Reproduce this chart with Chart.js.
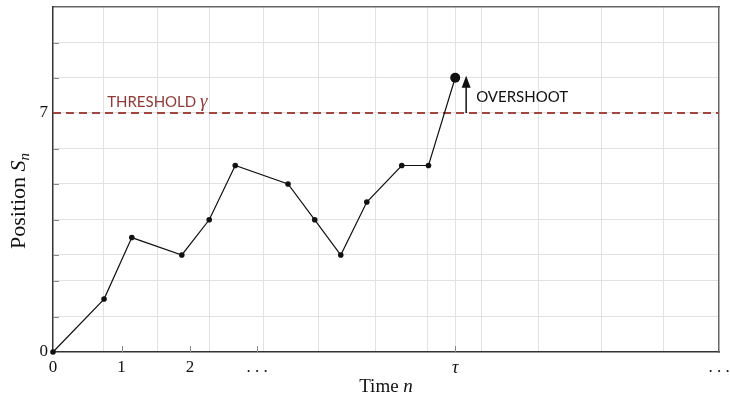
<!DOCTYPE html>
<html>
<head>
<meta charset="utf-8">
<script src="https://cdn.jsdelivr.net/npm/chart.js@4.4.0/dist/chart.umd.min.js"></script>
<style>
  html, body { margin: 0; background: #fff; }
  #wrap { width: 730px; height: 395px; }
</style>
</head>
<body>
<div id="wrap"><canvas id="walk"></canvas></div>
<script>
// random walk S_n
const stepTimes = [0, 0.745, 1.15, 1.88, 2.28, 2.66, 3.43, 3.82, 4.2, 4.58, 5.09, 5.48, 5.87];
const positions = [0, 1.55, 3.35, 2.84, 3.87, 5.46, 4.92, 3.87, 2.84, 4.39, 5.46, 5.46, 8.03];
const threshold = 7;
const xMax = 9.72;
const yMax = 10.1;

// grid lines (irregular in the original)
const xGrid = [0.73, 1.52, 2.28, 3.07, 3.87, 4.70, 5.47, 5.87, 6.26, 7.08, 8.01, 8.91];
const yGrid = [1.03, 2.08, 2.84, 3.87, 4.92, 5.95, 7, 8.03, 9.05];

// labelled ticks
const xTickVals = [0, 1, 2, 2.98, 5.87, xMax];
const xTickLabels = ['0', '1', '2', '. . .', 'τ', '. . .'];
const yTickVals = [0, 7];
const yTickLabels = ['0', '7'];

const overshootX = 6.03;
const serif = '"Liberation Serif", "DejaVu Serif", serif';
const sans = 'Lato, "Open Sans", sans-serif';

const near = (a, b) => Math.abs(a - b) < 1e-6;
const inList = (v, list) => list.some(t => near(t, v));
const merged = (a, b) => [...new Set([...a, ...b])].sort((p, q) => p - q);

function drawParts(ctx, parts, x, y) {
  // parts: [text, font, dy]
  let total = 0;
  parts.forEach(p => { ctx.font = p[1]; total += ctx.measureText(p[0]).width; });
  let cx = x - total / 2;
  parts.forEach(p => {
    ctx.font = p[1];
    ctx.fillText(p[0], cx, y + (p[2] || 0));
    cx += ctx.measureText(p[0]).width;
  });
}

const overlay = {
  id: 'overlay',
  beforeDatasetsDraw(chart) {
    const { ctx, chartArea: a, scales: { x, y } } = chart;
    ctx.save();
    ctx.strokeStyle = '#888';
    ctx.lineWidth = 1;
    // small inward tick marks
    xTickVals.slice(1, 5).forEach(v => {
      const px = Math.round(x.getPixelForValue(v)) + 0.5;
      ctx.beginPath(); ctx.moveTo(px, a.bottom); ctx.lineTo(px, a.bottom - 6); ctx.stroke();
    });
    yGrid.forEach(v => {
      const py = Math.round(y.getPixelForValue(v)) + 0.5;
      ctx.beginPath(); ctx.moveTo(a.left, py); ctx.lineTo(a.left + 6, py); ctx.stroke();
    });
    ctx.restore();
  },
  afterDatasetsDraw(chart) {
    const { ctx, scales: { x, y } } = chart;
    const ax = x.getPixelForValue(overshootX);
    const y0 = y.getPixelForValue(threshold);
    const y1 = y.getPixelForValue(positions[positions.length - 1]);
    ctx.save();
    ctx.strokeStyle = '#222';
    ctx.fillStyle = '#111';
    ctx.lineWidth = 1.6;
    ctx.beginPath(); ctx.moveTo(ax, y0); ctx.lineTo(ax, y1 + 8); ctx.stroke();
    ctx.beginPath();
    ctx.moveTo(ax, y1 - 2); ctx.lineTo(ax - 4.5, y1 + 10); ctx.lineTo(ax + 4.5, y1 + 10);
    ctx.closePath(); ctx.fill();

    // annotations
    ctx.textBaseline = 'alphabetic';
    ctx.textAlign = 'left';
    ctx.fillStyle = '#111';
    ctx.font = '15px ' + sans;
    ctx.fillText('OVERSHOOT', ax + 10, y1 + 24);

    ctx.fillStyle = '#8e3a3a';
    const tx = x.getPixelForValue(0.79);
    ctx.fillText('THRESHOLD ', tx, y0 - 6);
    const w = ctx.measureText('THRESHOLD ').width;
    ctx.font = 'italic 19px ' + serif;
    ctx.fillText('γ', tx + w, y0 - 6);
    ctx.restore();
  },
  afterDraw(chart) {
    const { ctx, chartArea: a } = chart;
    ctx.save();
    ctx.fillStyle = '#111';
    ctx.textBaseline = 'alphabetic';
    ctx.textAlign = 'left';
    drawParts(ctx, [['Time ', '19px ' + serif], ['n', 'italic 19px ' + serif]],
      (a.left + a.right) / 2, 392);
    ctx.translate(25, 201);
    ctx.rotate(-Math.PI / 2);
    drawParts(ctx, [['Position ', '22px ' + serif], ['S', 'italic 22px ' + serif],
      ['n', 'italic 15px ' + serif, 4]], 0, 0);
    ctx.restore();
  }
};

new Chart(document.getElementById('walk'), {
  type: 'scatter',
  data: {
    datasets: [
      {
        label: 'S_n',
        data: stepTimes.map((t, i) => ({ x: t, y: positions[i] })),
        showLine: true,
        clip: false,
        borderColor: '#111',
        borderWidth: 1.2,
        backgroundColor: '#111',
        pointRadius: ctx => (ctx.dataIndex === stepTimes.length - 1 ? 5 : 2.8),
        pointBorderWidth: 0,
        tension: 0
      },
      {
        label: 'threshold',
        data: [{ x: 0, y: threshold }, { x: xMax, y: threshold }],
        showLine: true,
        borderColor: '#9f4843',
        borderWidth: 2,
        borderDash: [8, 5],
        pointRadius: 0
      }
    ]
  },
  options: {
    responsive: true,
    maintainAspectRatio: false,
    animation: false,
    layout: { padding: { top: 7, right: 11, left: 0, bottom: 0 } },
    plugins: { legend: { display: false }, tooltip: { enabled: false } },
    scales: {
      x: {
        type: 'linear', min: 0, max: xMax,
        afterBuildTicks: s => { s.ticks = merged(xGrid, xTickVals).map(v => ({ value: v })); },
        afterFit: s => { s.height = 43; s.paddingLeft = 0; s.paddingRight = 0; },
        grid: {
          drawTicks: false,
          color: c => (c.tick && inList(c.tick.value, xGrid) ? '#e2e2e2' : 'rgba(0,0,0,0)'),
          lineWidth: 1
        },
        border: { color: '#333', width: 1.5 },
        ticks: {
          padding: 5,
          maxRotation: 0,
          autoSkip: false,
          color: '#111',
          font: c => (c.tick && near(c.tick.value, 5.87)
            ? { family: serif, size: 18, style: 'italic' }
            : { family: serif, size: 17 }),
          callback: v => {
            const i = xTickVals.findIndex(t => near(t, v));
            return i < 0 ? '' : xTickLabels[i];
          }
        }
      },
      xTop: {
        type: 'linear', position: 'top', min: 0, max: xMax,
        afterFit: s => { s.height = 0; s.paddingLeft = 0; s.paddingRight = 0; },
        grid: { display: false },
        ticks: { display: false },
        border: { color: '#666', width: 1.5 }
      },
      y: {
        type: 'linear', min: 0, max: yMax,
        afterBuildTicks: s => { s.ticks = merged(yGrid, yTickVals).map(v => ({ value: v })); },
        afterFit: s => { s.width = 53; s.paddingTop = 0; s.paddingBottom = 0; },
        grid: {
          drawTicks: false,
          color: c => (c.tick && inList(c.tick.value, yGrid) ? '#e2e2e2' : 'rgba(0,0,0,0)'),
          lineWidth: 1
        },
        border: { color: '#333', width: 1.5 },
        ticks: {
          padding: 5,
          autoSkip: false,
          color: '#111',
          font: { family: serif, size: 17 },
          callback: v => {
            const i = yTickVals.findIndex(t => near(t, v));
            return i < 0 ? '' : yTickLabels[i];
          }
        }
      },
      yRight: {
        type: 'linear', position: 'right', min: 0, max: yMax,
        afterFit: s => { s.width = 0; s.paddingTop = 0; s.paddingBottom = 0; },
        grid: { display: false },
        ticks: { display: false },
        border: { color: '#666', width: 1.5 }
      }
    }
  },
  plugins: [overlay]
});
</script>
</body>
</html>
